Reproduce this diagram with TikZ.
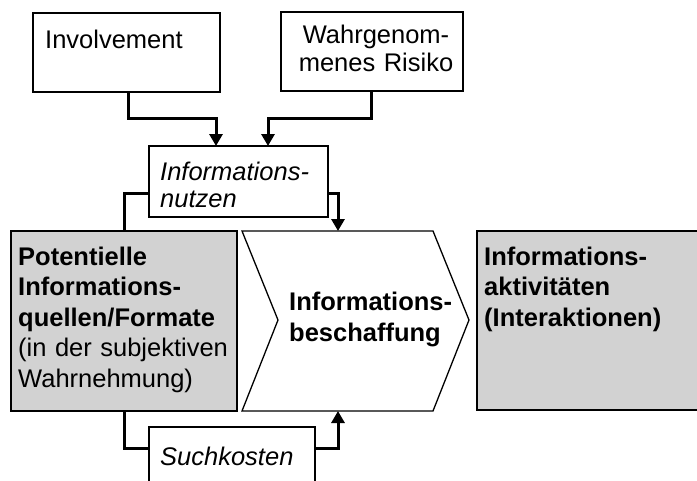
\documentclass[tikz,border=0pt]{standalone}
\usepackage{fontspec}
\setmainfont{Liberation Sans}
\usetikzlibrary{arrows.meta}
\definecolor{boxgray}{RGB}{210,210,210}
\begin{document}
\begin{tikzpicture}[x=1pt,y=-1pt,
  box/.style={draw,line width=1.3pt,inner sep=0,outer sep=0},
  graybox/.style={box,fill=boxgray},
  txt/.style={inner sep=0,anchor=base west,text width=300pt,align=left,
    font=\fontsize{25.5}{30.5}\selectfont},
  conn/.style={line width=3pt},
  arr/.style={conn,-{Triangle[width=13pt,length=12pt]}}]
\useasboundingbox (0,0) rectangle (697,480);
\clip (0,0) rectangle (697,480);

% boxes
\node[box,minimum width=187pt,minimum height=79pt] (inv) at (126.5,52.5) {};
\node[box,minimum width=182pt,minimum height=79pt] (risk) at (372,51.5) {};
\node[box,minimum width=179pt,minimum height=71pt] (nutz) at (238.5,181.5) {};
\node[graybox,minimum width=226pt,minimum height=180pt] (src) at (124,321) {};
\node[graybox,minimum width=233pt,minimum height=179pt] (akt) at (593.5,320.5) {};
\node[box,minimum width=166pt,minimum height=73pt] (such) at (232,463.5) {};

% chevron
\coordinate (chTL) at (242,231);
\coordinate (chTR) at (433,231);
\coordinate (chTip) at (469,320);
\coordinate (chBR) at (433,411);
\coordinate (chBL) at (242,411);
\coordinate (chNotch) at (278,320);
\coordinate (chTop) at (338,231);
\coordinate (chBot) at (338,411);
\draw[line width=1.3pt,fill=white] (chTL) -- (chTR) -- (chTip) -- (chBR) -- (chBL) -- (chNotch) -- cycle;

% texts
\node[txt] (tinv) at (45,48) {Involvement};
\node[txt,anchor=base,align=center,text width=170pt,
  font=\fontsize{25.5}{28.5}\selectfont] (trisk) at (376,43) {Wahrgenom-\\menes Risiko};
\node[txt,font=\fontsize{25.5}{27}\selectfont\itshape] (tnutz) at (160,180) {Informations-\\nutzen};
\node[txt] (tsrc) at (18,265) {\bfseries Potentielle\\Informations-\\quellen/Formate\\\mdseries (in der subjektiven\\Wahrnehmung)};
\node[txt,font=\fontsize{25.5}{31}\selectfont\bfseries] (tch) at (289,310) {Informations-\\beschaffung};
\node[txt,font=\fontsize{25.5}{30.5}\selectfont\bfseries] (takt) at (484,265) {Informations-\\aktivitäten\\(Interaktionen)};
\node[txt,font=\fontsize{25.5}{30.5}\selectfont\itshape] (tsuch) at (160,465) {Suchkosten};

% connectors
\draw[arr] (inv.south -| 128,0) |- (216,118) -- (nutz.north -| 216,0);
\draw[arr] (risk.south -| 371,0) |- (268,118) -- (nutz.north -| 268,0);
\draw[conn] (nutz.west |- 0,193) -| (src.north -| 124,0);
\draw[arr] (nutz.east |- 0,193) -| (chTop);
\draw[conn] (src.south -| 124,0) |- (such.west |- 0,448);
\draw[arr] (such.east |- 0,448) -| (chBot);
\end{tikzpicture}
\end{document}
